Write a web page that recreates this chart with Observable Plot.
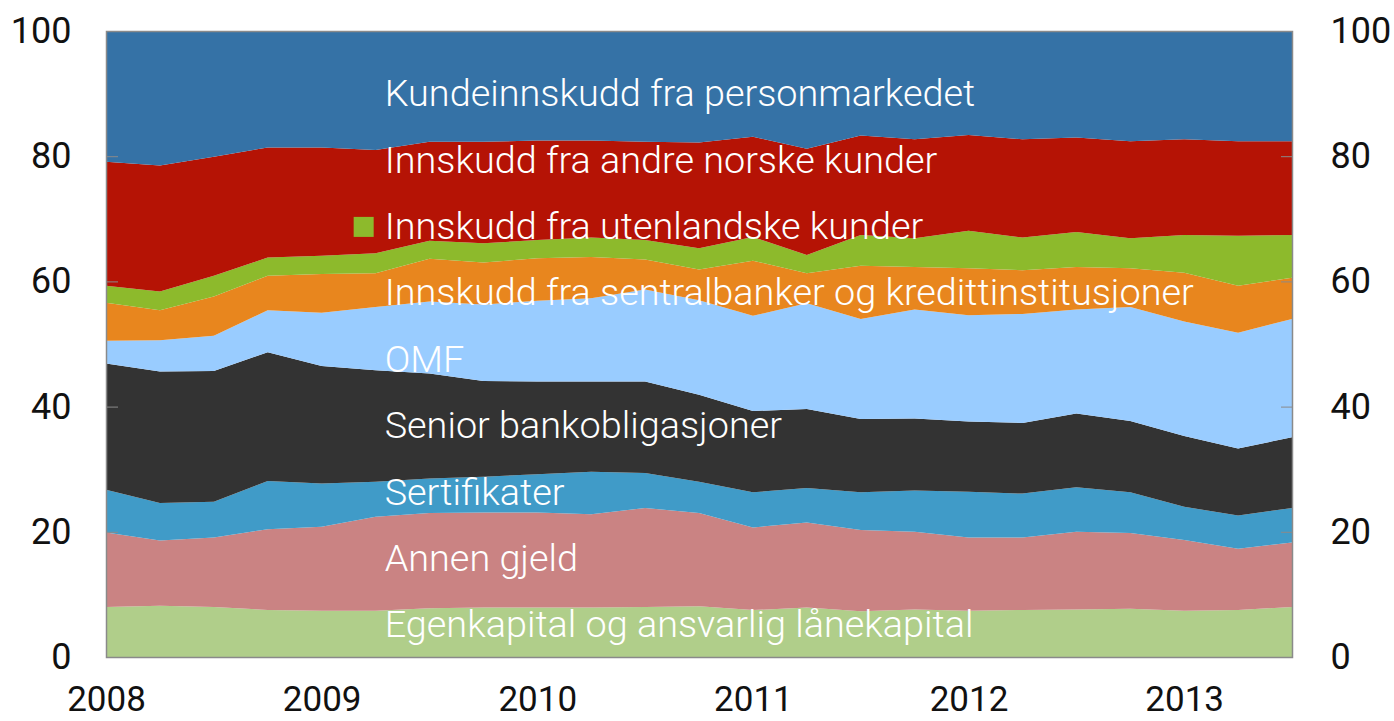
<!DOCTYPE html>
<html>
<head>
<meta charset="utf-8">
<script src="https://cdn.jsdelivr.net/npm/d3@7"></script>
<script src="https://cdn.jsdelivr.net/npm/@observablehq/plot@0.6"></script>
<style>
  html, body { margin: 0; padding: 0; background: #fff; }
  #chart svg { display: block; }
</style>
</head>
<body>
<div id="chart"></div>
<script>
// Quarterly observations, 2008 Q1 – 2013 Q3 (x as decimal year)
const dates = [2008, 2008.25, 2008.5, 2008.75, 2009, 2009.25, 2009.5, 2009.75,
  2010, 2010.25, 2010.5, 2010.75, 2011, 2011.25, 2011.5, 2011.75,
  2012, 2012.25, 2012.5, 2012.75, 2013, 2013.25, 2013.5];

// Series names, bottom to top of the stack
const seriesNames = [
  "Egenkapital og ansvarlig lånekapital",
  "Annen gjeld",
  "Sertifikater",
  "Senior bankobligasjoner",
  "OMF",
  "Innskudd fra sentralbanker og kredittinstitusjoner",
  "Innskudd fra utenlandske kunder",
  "Innskudd fra andre norske kunder",
  "Kundeinnskudd fra personmarkedet"
];
const seriesColors = ["#b0ce8a", "#ca8383", "#409bc8", "#333333", "#99ccff",
  "#e8861e", "#8dba2c", "#b51305", "#3572a6"];

// Shares in percent
const egenkapital   = [8.0,8.2,8.0,7.5,7.4,7.4,7.8,7.9,7.9,7.9,8.0,8.1,7.5,7.9,7.3,7.6,7.4,7.5,7.6,7.7,7.4,7.5,8.0];
const annenGjeld    = [11.9,10.4,11.1,12.9,13.4,15.0,15.2,15.2,15.2,14.9,15.8,14.9,13.2,13.6,13.0,12.4,11.7,11.6,12.4,12.1,11.3,9.8,10.3];
const sertifikater  = [6.8,6.0,5.7,7.7,6.9,5.6,5.5,5.7,6.1,6.8,5.6,5.0,5.6,5.5,6.0,6.6,7.3,7.0,7.1,6.5,5.3,5.3,5.5];
const senior        = [20.2,21.0,20.9,20.6,18.8,17.8,16.8,15.3,14.8,14.4,14.6,13.9,13.0,12.6,11.7,11.5,11.2,11.3,11.8,11.4,11.3,10.7,11.3];
const omf           = [3.6,5.0,5.6,6.7,8.5,10.1,11.5,12.2,12.9,13.3,14.7,15.1,15.2,16.9,16.0,17.4,17.0,17.4,16.6,18.2,18.3,18.5,18.9];
const sentralbanker = [6.1,4.8,6.3,5.5,6.2,5.4,6.8,6.7,6.8,6.6,4.8,4.9,8.8,4.8,8.5,6.8,7.5,7.0,6.8,6.2,7.8,7.5,6.6];
const utenlandske   = [2.7,3.0,3.3,2.9,2.9,3.2,2.9,3.1,2.9,3.1,3.1,3.4,3.8,2.9,4.9,4.6,6.0,5.2,5.6,4.8,6.0,8.0,6.8];
const andreNorske   = [19.8,20.1,19.0,17.6,17.3,16.5,15.8,16.2,15.9,15.5,15.7,16.9,16.0,17.0,15.9,15.8,15.3,15.7,15.1,15.5,15.3,15.1,15.0];
const personmarked  = [20.9,21.5,20.1,18.6,18.6,19.0,17.7,17.7,17.5,17.5,17.7,17.8,16.9,18.8,16.7,17.3,16.6,17.3,17.0,17.6,17.3,17.6,17.6];

const yTicks = [0, 20, 40, 60, 80, 100];
const xTicks = [2008, 2009, 2010, 2011, 2012, 2013];

// Labels shown in the chart, top to bottom
const labelOrder = seriesNames.slice().reverse();
const swatchLabel = "Innskudd fra utenlandske kunder";

const valuesBySeries = [egenkapital, annenGjeld, sertifikater, senior, omf,
  sentralbanker, utenlandske, andreNorske, personmarked];

const rows = [];
seriesNames.forEach((name, s) => {
  dates.forEach((x, i) => rows.push({series: name, x, value: valuesBySeries[s][i]}));
});

const W = 1394, H = 721;
const FONT = "Roboto, 'Liberation Sans', sans-serif";

// label layout (in y units): evenly spaced rows from the top
const labelX = 2009.29;
const labelY = (d, i) => 90.0 - i * 10.607;

const chart = Plot.plot({
  width: W,
  height: H,
  marginLeft: 106,
  marginRight: 102,
  marginTop: 31,
  marginBottom: 64,
  style: {fontFamily: FONT, background: "#fff"},
  x: {domain: [2008, 2013.5]},
  y: {domain: [0, 100]},
  color: {domain: seriesNames, range: seriesColors},
  marks: [
    Plot.areaY(rows, {x: "x", y: "value", z: "series", fill: "series", order: seriesNames}),
    Plot.frame({stroke: "#8a8a8a", strokeWidth: 1.5}),
    Plot.axisY({anchor: "left", ticks: yTicks, tickSize: -12, tickPadding: 47, stroke: "#8a8a8a",
      fontSize: 36, fill: "#111", fontWeight: 400, label: null, tickFormat: d => String(d)}),
    Plot.axisY({anchor: "right", ticks: yTicks, tickSize: -12, tickPadding: 50, stroke: "#8a8a8a",
      fontSize: 36, fill: "#111", fontWeight: 400, label: null, tickFormat: d => String(d)}),
    Plot.axisX({anchor: "bottom", ticks: xTicks, tickSize: 0, tickPadding: 29,
      fontSize: 35, fill: "#111", fontWeight: 400, label: null, tickFormat: d => String(d)}),
    Plot.text(labelOrder, {x: () => labelX, y: labelY, text: d => d, textAnchor: "start",
      fill: "#fff", fontSize: 37.8, fontWeight: 300, lineAnchor: "middle"}),
    Plot.dot(labelOrder.filter(d => d === swatchLabel), {
      x: () => labelX, y: d => labelY(d, labelOrder.indexOf(d)),
      symbol: "square", r: 11.3, dx: -21, fill: seriesColors[6], stroke: null})
  ]
});

document.getElementById("chart").appendChild(chart);
</script>
</body>
</html>
